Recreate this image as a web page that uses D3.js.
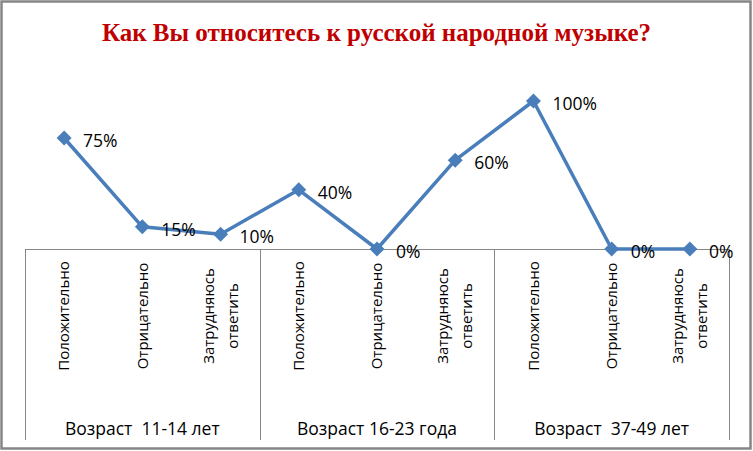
<!DOCTYPE html>
<html>
<head>
<meta charset="utf-8">
<script src="https://cdn.jsdelivr.net/npm/d3@7"></script>
<style>
	body { margin: 0; background: #fff; }
	#chart { width: 753px; height: 451px; }
	text { font-family: 'Open Sans', 'Noto Sans', sans-serif; fill: #000; }
	.chartTitle { font-family: 'Liberation Serif', 'Times New Roman', serif; font-weight: bold; fill: #c00000; }
</style>
</head>
<body>
<div id="chart"><svg width="753" height="451"></svg></div>
<script>
// categories, one per point
const categories = [
	'Положительно', 'Отрицательно', 'Затрудняюсь ответить',
	'Положительно', 'Отрицательно', 'Затрудняюсь ответить',
	'Положительно', 'Отрицательно', 'Затрудняюсь ответить'
];
// age groups, each covers three categories
const groups = [ 'Возраст  11-14 лет', 'Возраст 16-23 года', 'Возраст  37-49 лет' ];
// percent values
const values = [ 75, 15, 10, 40, 0, 60, 100, 0, 0 ];

const title = 'Как Вы относитесь к русской народной музыке?';

function drawChart() {
	/**********************
    ***** BASIC SETUP *****
    **********************/

	const width = 753;
	const height = 451;
	const margin = { top: 101, left: 25, right: 24, bottom: 202 };

	const svg = d3.select('#chart').select('svg');

	const LINE_COLOR = '#4a7ebb';
	const AXIS_COLOR = '#868686';

	const data = values.map(function(v, i) {
		return { index: i, category: categories[i], value: v };
	});

	// outer frame
	svg
		.append('rect')
		.attr('x', 1.5)
		.attr('y', 1.5)
		.attr('width', width - 4)
		.attr('height', height - 4)
		.attr('fill', '#fff')
		.attr('stroke', AXIS_COLOR)
		.attr('stroke-width', 2.5);

	/***********************
    ***** X & Y SCALES *****
    ***********************/

	const xScale = d3
		.scaleBand()
		.domain(d3.range(categories.length))
		.range([ margin.left, width - margin.right ])
		.paddingInner(0)
		.paddingOuter(0);

	const yScale = d3.scaleLinear().domain([ 0, 100 ]).range([ height - margin.bottom, margin.top ]);

	const x0 = xScale.range()[0];
	const step = xScale.step();
	const axisY = yScale(0);
	const axisBottom = 440;

	/***************************
    ***** X AXIS & GROUPS *****
    ***************************/

	const axis = svg.append('g').attr('class', 'xAxis');

	axis
		.append('line')
		.attr('x1', x0)
		.attr('x2', xScale.range()[1])
		.attr('y1', axisY + 0.5)
		.attr('y2', axisY + 0.5)
		.attr('stroke', AXIS_COLOR);

	// separators between age groups
	axis
		.selectAll('.sep')
		.data(d3.range(groups.length + 1))
		.enter()
		.append('line')
		.attr('class', 'sep')
		.attr('x1', function(d) {
			return Math.round(x0 + d * 3 * step) + 0.5;
		})
		.attr('x2', function(d) {
			return Math.round(x0 + d * 3 * step) + 0.5;
		})
		.attr('y1', axisY)
		.attr('y2', axisBottom)
		.attr('stroke', AXIS_COLOR);

	// rotated category labels
	const catLabels = axis
		.selectAll('.catLabel')
		.data(data)
		.enter()
		.append('text')
		.attr('class', 'catLabel')
		.attr('transform', function(d) {
			return `translate(${xScale(d.index) + xScale.bandwidth() / 2}, 316) rotate(-90)`;
		})
		.attr('text-anchor', 'middle')
		.style('font-size', '15px');

	catLabels.each(function(d) {
		const words = d.category.split(' ');
		const el = d3.select(this);
		words.forEach(function(w, i) {
			el
				.append('tspan')
				.attr('x', 0)
				.attr('y', (i - (words.length - 1) / 2) * 24)
				.attr('dy', '0.35em')
				.text(w);
		});
	});

	// group labels
	axis
		.selectAll('.groupLabel')
		.data(groups)
		.enter()
		.append('text')
		.attr('class', 'groupLabel')
		.attr('x', function(d, i) {
			return x0 + (i * 3 + 1.5) * step;
		})
		.attr('y', 435)
		.attr('text-anchor', 'middle')
		.attr('xml:space', 'preserve')
		.style('white-space', 'pre')
		.style('font-size', '17.5px')
		.text(function(d) {
			return d;
		});

	/****************
    ***** LINE *****
    *****************/

	const plot = svg.append('g').attr('id', 'plot');

	const line = d3
		.line()
		.x(function(d) {
			return xScale(d.index) + xScale.bandwidth() / 2;
		})
		.y(function(d) {
			return yScale(d.value);
		});

	plot
		.append('path')
		.datum(data)
		.attr('d', line)
		.attr('fill', 'none')
		.attr('stroke', LINE_COLOR)
		.attr('stroke-width', 3.5)
		.attr('stroke-linejoin', 'round');

	plot
		.selectAll('.marker')
		.data(data)
		.enter()
		.append('path')
		.attr('class', 'marker')
		.attr('d', d3.symbol().type(d3.symbolSquare).size(112))
		.attr('transform', function(d) {
			return `translate(${xScale(d.index) + xScale.bandwidth() / 2}, ${yScale(d.value)}) rotate(45)`;
		})
		.attr('fill', LINE_COLOR);

	// value labels, right of each marker
	plot
		.selectAll('.barLabel')
		.data(data)
		.enter()
		.append('text')
		.attr('class', 'barLabel')
		.attr('x', function(d) {
			return xScale(d.index) + xScale.bandwidth() / 2 + 19;
		})
		.attr('y', function(d) {
			return yScale(d.value) + 3;
		})
		.attr('dy', '0.35em')
		.style('font-size', '17.5px')
		.text(function(d) {
			return d.value + '%';
		});

	/****************
    ***** TITLE *****
    *****************/

	svg
		.append('text')
		.attr('class', 'chartTitle')
		.attr('x', width / 2)
		.attr('y', 41)
		.attr('text-anchor', 'middle')
		.style('font-size', '25px')
		.text(title);
}

drawChart();
</script>
</body>
</html>
